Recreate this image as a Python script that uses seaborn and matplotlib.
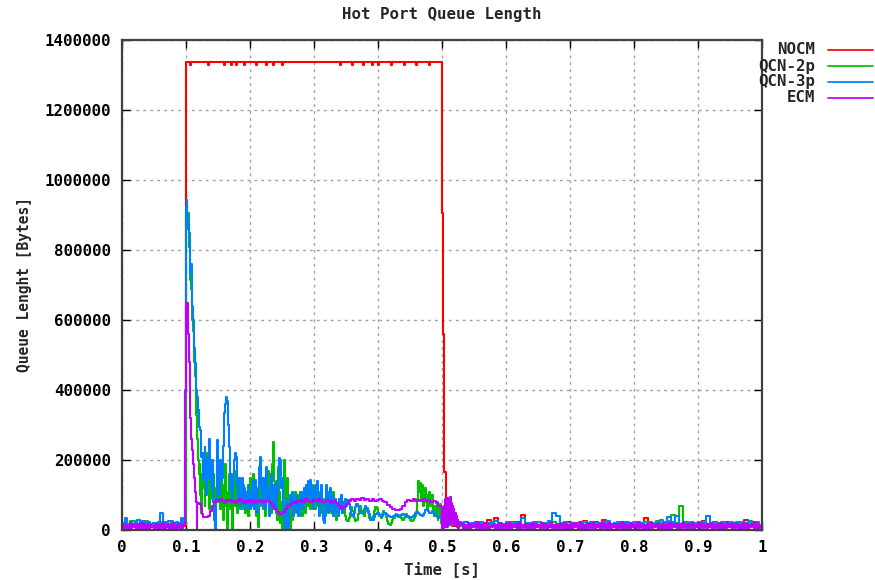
import numpy as np
import pandas as pd
import matplotlib
matplotlib.use("Agg")
import matplotlib.pyplot as plt
from matplotlib.lines import Line2D
import seaborn as sns

# ---------------------------------------------------------------------------
# Queue traces of the hot port (queue length in kB = 1000 bytes, time in s)
# ---------------------------------------------------------------------------
SERIES = ["NOCM", "QCN-2p", "QCN-3p", "ECM"]
COLORS = ["#ff0000", "#00c000", "#0080ff", "#c000ff"]

x_ticks = [0, 0.1, 0.2, 0.3, 0.4, 0.5, 0.6, 0.7, 0.8, 0.9, 1.0]
x_tick_labels = ["0", "0.1", "0.2", "0.3", "0.4", "0.5", "0.6", "0.7", "0.8", "0.9", "1"]
y_ticks = [0, 200000, 400000, 600000, 800000, 1000000, 1200000, 1400000]
y_tick_labels = ["0", "200000", "400000", "600000", "800000", "1000000", "1200000", "1400000"]

# idle period before the incast (sampled every 4 ms from t = 0; ECM every 2 ms)
IDLE_STEP = 0.004
ECM_IDLE_STEP = 0.002
nocm_idle = [10, 14, 8, 12, 16, 9, 13, 11, 15, 8, 12, 14, 10, 9, 13, 11, 15, 12, 8, 14, 10, 13, 9, 12, 11]
qcn2_idle = [15, 22, 18, 25, 27, 24, 29, 20, 18, 25, 22, 16, 19, 21, 17, 23, 18, 20, 15, 22, 19, 17, 21, 18, 16]
qcn3_idle = [20, 33, 18, 24, 15, 22, 30, 17, 25, 19, 23, 16, 21, 18, 24, 48, 22, 19, 26, 27, 18, 23, 20, 33, 20]
ecm_idle = [14, 3, 17, 6, 12, 2, 19, 5, 15, 8, 13, 1, 18, 4, 16, 7, 20, 3, 14, 6,
            17, 2, 15, 9, 12, 4, 18, 7, 13, 2, 16, 5, 19, 3, 14, 8, 17, 1, 15, 6,
            20, 4, 12, 7, 18, 3, 16, 5, 14]

# NOCM: queue saturates during the burst, with tiny dips, then drains at 0.5 s
nocm_burst_t = [0.0998, 0.106, 0.1075, 0.134, 0.1355, 0.159, 0.1605, 0.171, 0.1725, 0.178,
                0.1795, 0.19, 0.1915, 0.21, 0.2115, 0.225, 0.2265, 0.236, 0.2375, 0.25,
                0.2515, 0.34, 0.3415, 0.36, 0.3615, 0.376, 0.3775, 0.39, 0.3915, 0.40,
                0.4015, 0.42, 0.4215, 0.44, 0.4415, 0.46, 0.4615, 0.48, 0.4815, 0.5005,
                0.5015, 0.503, 0.5055, 0.507]
nocm_burst_q = [1336, 1330, 1336, 1330, 1336, 1330, 1336, 1330, 1336, 1330,
                1336, 1330, 1336, 1330, 1336, 1330, 1336, 1330, 1336, 1330,
                1336, 1330, 1336, 1330, 1336, 1330, 1336, 1330, 1336, 1330,
                1336, 1330, 1336, 1330, 1336, 1330, 1336, 1330, 1336, 905,
                560, 165, 140, 20]

# QCN-2p
qcn2_rise = [900, 930, 860, 905, 810, 830, 760, 714, 690, 650, 600, 570, 520, 480, 440, 380, 330,
             260, 230, 200, 160, 190, 100, 160, 50, 140, 210, 120, 180, 70, 150]          # every 1 ms from 0.100
qcn2_osc = [220, 110, 170, 60, 150, 200, 90, 160, 40, 0,
            120, 180, 80, 140, 60, 170, 100, 30, 130, 190,
            70, 0, 110, 160, 60, 140, 90, 0, 120, 170,
            70, 130, 50, 110, 150, 80, 120, 60, 130, 90,
            50, 110, 80, 40, 100, 150, 90, 130, 160, 80,
            60, 120, 40, 100, 10, 70, 130, 90, 150, 60,
            110, 40, 140, 90, 170, 70, 120, 50, 190, 252,
            140, 60, 120, 30, 90, 180, 110, 20, 80, 0,
            60, 200, 120, 40, 150, 90, 0, 0, 70, 30,
            90, 50, 110, 60, 100, 40, 80, 110, 60, 90,
            40, 70, 100, 50, 90, 120, 70, 110, 60, 90,
            130, 80, 110, 60, 100, 130, 90, 60, 110, 80,
            50, 90, 70, 40, 80, 110, 70, 100, 60, 90,
            50, 80, 110, 70, 40, 30, 50, 70, 90, 60,
            80, 50, 70, 60, 40]                                                         # every 1.5 ms from 0.132
qcn2_settle = [30, 25, 35, 50, 65, 55, 35, 25, 30, 45, 60, 70, 55, 45, 40, 55, 60, 50, 35, 28,
               30, 40, 55, 65, 60, 50, 40, 35, 45, 55, 50, 38, 25, 18, 15, 20, 28, 35, 42, 45,
               40, 38, 40, 35, 30, 35, 40, 45, 40, 35, 30, 25, 28, 35, 40, 50]              # every 2 ms from 0.350
qcn2_tail = [90, 140, 110, 135, 90, 130, 70, 110, 120, 80, 60, 100, 110, 70, 95, 100, 60, 40,
             70, 50, 80, 30, 60, 40, 75, 20]                                           # every 1.5 ms from 0.4615

# QCN-3p
qcn3_rise_t = [0.0985, 0.1000]
qcn3_rise_q = [400, 920]
qcn3_decay = [943, 900, 867, 877, 848, 808, 734, 760, 714, 640, 600, 591, 520, 477, 466, 400, 380,
              371, 334, 343, 294, 286, 250, 209, 220, 160, 143, 190, 237, 160]               # every 1 ms from 0.101
qcn3_osc = [100, 210, 150, 260, 180, 120, 200, 80, 30, 0,
            90, 257, 150, 100, 200, 143, 150, 240, 333, 360,
            381, 370, 300, 237, 180, 114, 160, 90, 140, 200,
            220, 210, 130, 90, 150, 60, 110, 150, 80, 120,
            60, 100, 70, 130, 90, 60, 110, 70, 140, 100,
            60, 143, 90, 50, 120, 180, 209, 120, 70, 150,
            100, 60, 181, 130, 80, 40, 110, 160, 90, 60,
            130, 80, 50, 140, 100, 170, 205, 200, 120, 150,
            60, 20, 0, 90, 10, 0, 60, 100, 70, 110,
            40, 90, 60, 100, 50, 80, 40, 90, 110, 70,
            100, 60, 120, 80, 130, 90, 140, 100, 143, 80,
            120, 60, 100, 130, 90, 140, 70, 40, 100, 130,
            80, 30, 20, 60, 100, 130, 90, 50, 110, 120,
            60, 100, 40, 80, 90, 50, 70, 40, 90, 60,
            100, 50, 80, 60, 90]                                                        # every 1.5 ms from 0.132
qcn3_settle = [70, 85, 75, 60, 45, 40, 50, 65, 75, 70, 60, 50, 48, 52, 60, 68, 62, 55, 45, 35,
               28, 30, 38, 45, 50, 48, 42, 38, 40, 45, 48, 45, 42, 40, 38, 36, 38, 40, 42, 44,
               42, 40, 42, 44, 46, 44, 42, 40, 38, 36, 34, 36, 40, 44, 48, 52, 50, 46, 42, 40,
               44, 50, 56, 58, 54, 50, 48, 55, 52, 45, 40, 36, 34, 38, 42]                   # every 2 ms from 0.350

# ECM
ecm_rise_t = [0.0985, 0.1005, 0.1025, 0.104, 0.1055, 0.107, 0.1085, 0.110, 0.1115, 0.113,
              0.1145, 0.116, 0.117, 0.1178, 0.1205, 0.123, 0.125, 0.127, 0.131, 0.135,
              0.138, 0.141, 0.144]
ecm_rise_q = [395, 650, 560, 480, 400, 320, 260, 230, 190, 150,
              110, 80, 5, 78, 75, 60, 45, 38, 36, 40,
              55, 68, 80]
ecm_hold = [86, 82, 88, 84, 78, 85, 82, 87, 80, 84, 78, 83, 88, 82, 76, 84, 80, 86, 80, 85,
            78, 82, 86, 80, 84, 79, 84, 82, 78]                                          # every 3 ms from 0.147
ecm_steady = [70, 60, 52, 47, 52, 60, 68, 74, 80, 76, 82, 86, 80, 88, 84, 80, 86, 82, 88, 84,
              80, 86, 82, 78, 84, 76, 68, 62, 65, 74, 82, 88, 84, 90, 86, 91, 86, 90, 84, 88,
              82, 86, 88, 84, 80, 72, 66, 60, 56, 58, 60, 70, 80, 86, 84, 88, 82, 86, 84, 88,
              84, 86, 80, 84, 78, 70, 66]                                                  # every 4 ms from 0.234
ecm_release = [2, 60, 5, 70, 8, 88, 20, 75, 10, 92, 30, 85, 15, 95, 40, 78, 20, 70, 35, 60,
               18, 50, 12, 40, 8, 30, 6, 22]                                              # every 1 ms from 0.4995

# after the burst: background traffic
AFTER_STEP = 0.006
nocm_after = [18, 12, 20, 14, 22, 11, 17, 24, 13, 19, 29, 15, 35, 18, 12, 21, 16, 23, 14, 43,
              17, 20, 13, 22, 15, 19, 24, 12, 18, 21, 16, 23, 14, 20, 17, 25, 13, 19, 22, 15,
              28, 18, 14, 21, 16, 23, 12, 20, 17, 24, 15, 34, 19, 13, 22, 18, 16, 24, 14, 20,
              17, 23, 15, 19, 21, 13, 25, 18, 16, 22, 14, 20, 24, 17, 19, 15, 21, 30, 16, 22,
              18, 20]                                                                      # from 0.510
qcn2_after = [10, 14, 20, 17, 12, 22, 16, 19, 13, 21, 15, 18, 23, 12, 20, 16, 14, 22, 17, 19, 13,
              21, 15, 18, 24, 12, 19, 16, 22, 14, 20, 17, 13, 21, 18, 15, 23, 19, 12, 20, 16,
              22, 14, 18, 21, 13, 19, 24, 16, 20, 15, 18, 22, 13, 21, 27, 19, 24, 25, 43, 20,
              68, 18, 22, 14, 19, 16, 23, 13, 20, 17, 21, 15, 19, 24, 12, 18, 22, 16, 20, 14,
              19, 17]                                                                      # from 0.504
qcn3_after = [12, 16, 22, 13, 19, 24, 15, 20, 12, 23, 17, 21, 14, 25, 18, 13, 22, 16, 20, 24, 35,
              15, 19, 23, 13, 21, 17, 25, 48, 40, 18, 22, 14, 20, 16, 24, 13, 19, 23, 15, 21,
              17, 25, 14, 20, 22, 16, 19, 13, 24, 18, 21, 15, 23, 17, 20, 30, 19, 38, 22, 40,
              18, 24, 16, 21, 14, 23, 19, 40, 17, 22, 15, 24, 18, 20, 13, 23, 17, 21, 25, 16,
              22, 19]                                                                      # from 0.504
ECM_AFTER_STEP = 0.0025
ecm_after = [18, 4, 15, 6, 20, 3, 14, 8, 17, 5,
             19, 2, 13, 7, 16, 4, 21, 6, 12, 9,
             18, 3, 15, 5, 20, 7, 14, 2, 17, 6,
             19, 4, 13, 8, 16, 3, 22, 5, 15, 7,
             18, 2, 14, 6, 20, 4, 16, 9, 13, 3,
             19, 6, 17, 2, 15, 8, 21, 5, 14, 4,
             18, 7, 16, 3, 20, 6, 13, 5, 17, 2,
             19, 8, 15, 4, 22, 6, 14, 3, 18, 7,
             16, 5, 20, 2, 13, 9, 17, 4, 19, 6,
             15, 3, 21, 5, 16, 8, 18, 2, 14, 7,
             20, 4, 17, 6, 13, 3, 19, 8, 15, 2,
             22, 5, 16, 7, 14, 4, 18, 3, 20, 6,
             13, 9, 17, 2, 15, 5, 21, 7, 14, 4,
             19, 3, 16, 8, 18, 2, 13, 6, 20, 5,
             15, 7, 17, 3, 22, 4, 14, 8, 19, 2,
             16, 6, 13, 5, 18, 9, 20, 3, 15, 7,
             17, 4, 21, 2, 14, 6, 19, 8, 16, 3,
             13, 5, 18, 7, 15, 2, 20, 6, 17, 4,
             14, 9, 16, 3, 19, 5, 15, 7]                                                  # from 0.530


def sampled(start, step, values):
    """Sample times for a trace segment recorded at a fixed interval."""
    return start + step * np.arange(len(values))


traces = {
    "NOCM": (
        np.concatenate([sampled(0.0, IDLE_STEP, nocm_idle), nocm_burst_t,
                        sampled(0.510, AFTER_STEP, nocm_after)]),
        nocm_idle + nocm_burst_q + nocm_after,
    ),
    "QCN-2p": (
        np.concatenate([sampled(0.0, IDLE_STEP, qcn2_idle), sampled(0.100, 0.001, qcn2_rise),
                        sampled(0.132, 0.0015, qcn2_osc), sampled(0.350, 0.002, qcn2_settle),
                        sampled(0.4615, 0.0015, qcn2_tail), sampled(0.504, AFTER_STEP, qcn2_after)]),
        qcn2_idle + qcn2_rise + qcn2_osc + qcn2_settle + qcn2_tail + qcn2_after,
    ),
    "QCN-3p": (
        np.concatenate([sampled(0.0, IDLE_STEP, qcn3_idle), qcn3_rise_t,
                        sampled(0.101, 0.001, qcn3_decay), sampled(0.132, 0.0015, qcn3_osc),
                        sampled(0.350, 0.002, qcn3_settle), sampled(0.504, AFTER_STEP, qcn3_after)]),
        qcn3_idle + qcn3_rise_q + qcn3_decay + qcn3_osc + qcn3_settle + qcn3_after,
    ),
    "ECM": (
        np.concatenate([sampled(0.0, ECM_IDLE_STEP, ecm_idle), ecm_rise_t,
                        sampled(0.147, 0.003, ecm_hold), sampled(0.234, 0.004, ecm_steady),
                        sampled(0.4995, 0.001, ecm_release),
                        sampled(0.530, ECM_AFTER_STEP, ecm_after)]),
        ecm_idle + ecm_rise_q + ecm_hold + ecm_steady + ecm_release + ecm_after,
    ),
}

frames = []
for name in SERIES:
    t, q_kb = traces[name]
    frames.append(pd.DataFrame({"time": t, "bytes": np.asarray(q_kb, dtype=float) * 1000.0,
                                "series": name}))
df = pd.concat(frames, ignore_index=True)

# ---------------------------------------------------------------------------
# Figure
# ---------------------------------------------------------------------------
sns.set_theme(style="white")
plt.rcParams["font.family"] = ["DejaVu Sans Mono", "DejaVu Sans"]
plt.rcParams["font.weight"] = "bold"
FS = 11.3

fig = plt.figure(figsize=(8.75, 5.8), dpi=100)
ax = fig.add_axes([122 / 875, 50 / 580, 640 / 875, 490 / 580])

sns.lineplot(data=df, x="time", y="bytes", hue="series", hue_order=SERIES, palette=COLORS,
             estimator=None, sort=False, drawstyle="steps-post", linewidth=1.5,
             legend=False, ax=ax)

ax.set_xlim(0, 1)
ax.set_ylim(0, 1400000)
ax.set_xticks(x_ticks)
ax.set_xticklabels(x_tick_labels)
ax.set_yticks(y_ticks)
ax.set_yticklabels(y_tick_labels)
for lab in ax.get_xticklabels() + ax.get_yticklabels():
    lab.set_fontsize(FS)
    lab.set_fontweight("bold")
    lab.set_color("black")

ax.tick_params(axis="both", which="major", direction="in", length=6, width=1.0, color="black",
               top=True, right=True, bottom=True, left=True)
ax.tick_params(axis="x", pad=7)
ax.tick_params(axis="y", pad=8)

ax.grid(True, color="#a0a0a0", linestyle=(0, (2, 3)), linewidth=1.0)
ax.set_axisbelow(True)
for sp in ax.spines.values():
    sp.set_color("#404040")
    sp.set_linewidth(1.6)

ax.set_xlabel("Time [s]", fontsize=FS, fontweight="bold", labelpad=5)
ax.set_ylabel("Queue Lenght [Bytes]", fontsize=FS - 0.8, fontweight="bold", labelpad=9)
fig.text(0.505, 1 - 15 / 580, "Hot Port Queue Length", ha="center", va="center",
         fontsize=FS, fontweight="bold")

# key, right-aligned labels with sample lines outside the plot area
for i, (name, col) in enumerate(zip(SERIES, COLORS)):
    y = 1 - (50 + 16 * i) / 580
    fig.text(815 / 875, y, name, ha="right", va="center", fontsize=FS, fontweight="bold")
    fig.add_artist(Line2D([828 / 875, 873 / 875], [y, y], transform=fig.transFigure,
                          color=col, linewidth=1.25))

fig.savefig("out.png", dpi=100)
